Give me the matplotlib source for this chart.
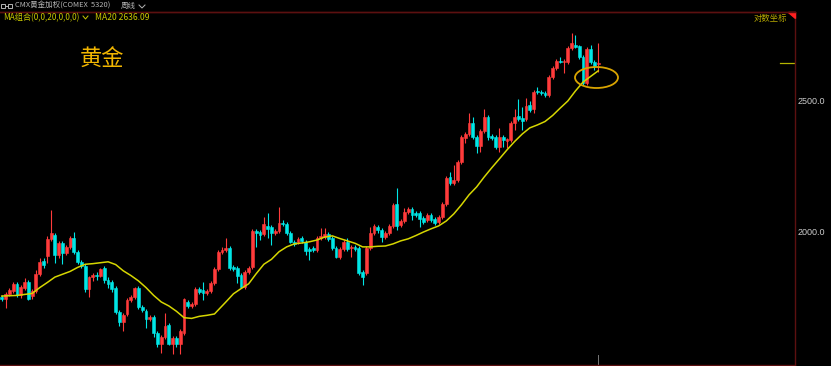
"""CMX gold weekly candles with MA20 (dark trading-terminal style)."""
import matplotlib
matplotlib.use("Agg")
import matplotlib.pyplot as plt
from matplotlib.patches import Ellipse, Polygon, Rectangle
from matplotlib.lines import Line2D
import numpy as np

plt.rcParams["font.family"] = ["Noto Sans CJK SC", "DejaVu Sans"]

# weekly OHLC
OPENS = [1794, 1788, 1803, 1812, 1834, 1800, 1822, 1840, 1797, 1812,
         1866, 1907, 1924, 1980, 1993, 1927, 1966, 1933, 1953, 1983,
         1937, 1904, 1892, 1819, 1854, 1863, 1860, 1885, 1846, 1840,
         1822, 1748, 1718, 1742, 1784, 1794, 1822, 1763, 1751, 1727,
         1733, 1687, 1656, 1676, 1710, 1656, 1673, 1656, 1687, 1778,
         1766, 1772, 1819, 1815, 1806, 1812, 1837, 1882, 1937, 1943,
         1950, 1888, 1885, 1863, 1825, 1872, 1888, 2007, 2003, 1997,
         2024, 2021, 2000, 2007, 2034, 2031, 2000, 1970, 1970, 1983,
         1970, 1946, 1950, 1943, 1983, 1986, 1997, 1983, 1950, 1921,
         1946, 1970, 1950, 1953, 1950, 1872, 1869, 1950, 2000, 2021,
         2010, 1986, 2000, 2024, 2101, 2027, 2041, 2073, 2083, 2069,
         2069, 2052, 2045, 2062, 2048, 2038, 2055, 2101, 2200, 2178,
         2189, 2257, 2351, 2367, 2412, 2355, 2320, 2380, 2437, 2359,
         2355, 2316, 2355, 2339, 2343, 2412, 2441, 2433, 2429, 2487,
         2470, 2547, 2543, 2539, 2530, 2609, 2649, 2681, 2676, 2676,
         2741, 2755, 2750, 2699, 2582, 2736, 2676, 2667]
CLOSES = [1788, 1803, 1815, 1834, 1800, 1825, 1840, 1788, 1812, 1866,
          1904, 1895, 1980, 2000, 1927, 1966, 1933, 1953, 1983, 1937,
          1904, 1892, 1819, 1854, 1863, 1857, 1882, 1846, 1834, 1819,
          1748, 1718, 1739, 1784, 1794, 1822, 1763, 1754, 1727, 1733,
          1687, 1656, 1676, 1707, 1656, 1673, 1656, 1692, 1788, 1766,
          1772, 1819, 1809, 1806, 1812, 1837, 1882, 1937, 1943, 1950,
          1885, 1882, 1860, 1825, 1872, 1885, 2007, 2000, 1993, 2031,
          2014, 2000, 2007, 2034, 2031, 2000, 1970, 1963, 1980, 1973,
          1940, 1940, 1943, 1983, 1990, 1997, 1980, 1950, 1921, 1946,
          1970, 1946, 1953, 1946, 1869, 1854, 1950, 2000, 2024, 2010,
          1986, 2000, 2024, 2098, 2024, 2041, 2073, 2083, 2062, 2062,
          2048, 2038, 2062, 2045, 2034, 2055, 2101, 2196, 2178, 2189,
          2257, 2355, 2367, 2412, 2355, 2320, 2380, 2437, 2355, 2351,
          2316, 2355, 2343, 2347, 2412, 2437, 2429, 2420, 2483, 2466,
          2543, 2543, 2539, 2530, 2609, 2649, 2681, 2676, 2681, 2741,
          2764, 2746, 2699, 2582, 2736, 2676, 2658, 2672]
HIGHS = [1800, 1809, 1822, 1840, 1840, 1831, 1851, 1846, 1819, 1878,
         1917, 1917, 1990, 2080, 2000, 1973, 1973, 1960, 1990, 2003,
         1943, 1910, 1898, 1860, 1869, 1872, 1885, 1892, 1854, 1846,
         1828, 1754, 1745, 1791, 1800, 1825, 1828, 1769, 1757, 1739,
         1739, 1692, 1681, 1745, 1716, 1679, 1679, 1698, 1791, 1784,
         1778, 1825, 1825, 1840, 1819, 1843, 1888, 1943, 1953, 1983,
         1956, 1895, 1892, 1869, 1878, 1892, 2014, 2014, 2010, 2055,
         2069, 2027, 2014, 2091, 2045, 2038, 2007, 1976, 1986, 1990,
         1976, 1953, 1956, 1990, 2017, 2017, 2003, 1990, 1956, 1953,
         1976, 1983, 1960, 1960, 1956, 1878, 1956, 2021, 2031, 2027,
         2017, 2007, 2031, 2105, 2159, 2048, 2087, 2091, 2091, 2076,
         2076, 2059, 2069, 2069, 2055, 2062, 2108, 2204, 2219, 2246,
         2265, 2363, 2376, 2454, 2437, 2363, 2388, 2470, 2445, 2367,
         2363, 2392, 2363, 2351, 2420, 2470, 2513, 2479, 2517, 2504,
         2552, 2565, 2552, 2547, 2618, 2658, 2690, 2699, 2690, 2750,
         2812, 2802, 2755, 2708, 2746, 2755, 2686, 2764]
LOWS = [1781, 1760, 1797, 1806, 1794, 1791, 1815, 1784, 1788, 1806,
        1860, 1885, 1901, 1973, 1901, 1917, 1898, 1927, 1946, 1930,
        1898, 1885, 1809, 1794, 1843, 1846, 1854, 1837, 1822, 1809,
        1742, 1707, 1692, 1736, 1778, 1788, 1757, 1748, 1701, 1721,
        1676, 1648, 1631, 1670, 1651, 1628, 1648, 1628, 1681, 1760,
        1760, 1766, 1803, 1784, 1800, 1806, 1831, 1875, 1930, 1937,
        1878, 1875, 1837, 1822, 1819, 1866, 1882, 1953, 1976, 1990,
        1983, 1960, 1993, 2000, 2024, 1993, 1966, 1956, 1963, 1966,
        1927, 1910, 1937, 1937, 1976, 1980, 1973, 1943, 1917, 1913,
        1940, 1940, 1921, 1940, 1863, 1831, 1863, 1943, 1993, 2000,
        1970, 1980, 1993, 2017, 2010, 2021, 2034, 2066, 2045, 2055,
        2021, 2031, 2038, 2038, 2027, 2031, 2048, 2094, 2170, 2170,
        2182, 2249, 2331, 2359, 2347, 2292, 2296, 2372, 2343, 2343,
        2308, 2296, 2316, 2312, 2335, 2384, 2420, 2384, 2420, 2458,
        2454, 2534, 2530, 2521, 2521, 2600, 2640, 2672, 2627, 2667,
        2732, 2741, 2690, 2573, 2573, 2667, 2640, 2631]

# MA20 line (candle number, value)
MA_IDX = [0, 4, 8, 10, 12, 14, 16, 18, 20, 22, 24, 26, 28, 30, 32, 34, 36,
          38, 40, 42, 44, 46, 48, 50, 52, 54, 56, 57, 59, 61, 63, 65, 67,
          69, 71, 73, 75, 77, 79, 81, 83, 85, 87, 89, 91, 93, 95, 97, 99,
          101, 103, 105, 107, 109, 111, 113, 115, 117, 119, 121, 123, 125,
          127, 129, 131, 133, 135, 137, 139, 141, 143, 145, 147, 149, 151,
          153, 155, 157]
MA_VAL = [1796, 1798, 1804, 1822, 1838, 1855, 1864, 1873, 1886, 1896,
          1898, 1901, 1904, 1895, 1875, 1860, 1843, 1822, 1798, 1778,
          1766, 1750, 1731, 1729, 1735, 1738, 1742, 1754, 1778, 1803,
          1819, 1834, 1866, 1896, 1912, 1937, 1953, 1963, 1966, 1970,
          1976, 1986, 1990, 1981, 1973, 1965, 1953, 1953, 1955, 1956,
          1963, 1973, 1980, 1991, 2003, 2014, 2024, 2041, 2066, 2098,
          2134, 2163, 2200, 2235, 2269, 2304, 2337, 2367, 2392, 2404,
          2418, 2443, 2474, 2504, 2547, 2586, 2611, 2636]

Y_TICKS = [2000.0, 2500.0]
LAST_PRICE = 2672

W, H = 831, 366
UP, DOWN = "#ff3b3b", "#00e6e6"
FRAME = "#5c1010"


def fxy(x, y):
    return x / W, 1 - y / H


fig = plt.figure(figsize=(W / 100, H / 100), dpi=100, facecolor="black")
ax = fig.add_axes([0, 1 / H, 795 / W, 353 / H])
ax.set_facecolor("black")

o = np.array(OPENS, float)
c = np.array(CLOSES, float)
hi = np.array(HIGHS, float)
lo = np.array(LOWS, float)
x = np.arange(len(o))
up = c >= o
cols = np.where(up, UP, DOWN)

ax.vlines(x, lo, hi, colors=cols, lw=0.8, zorder=2)
ax.bar(x, np.abs(c - o), bottom=np.minimum(o, c), width=0.74,
       color=cols, edgecolor=cols, lw=0.4, zorder=3)

ax.plot(MA_IDX, MA_VAL, color="#d6d600", lw=1.1, zorder=4)

ax.set_yscale("log")
ax.set_ylim(1597, 2914)
ax.set_xlim(-0.45, 208.8)
ax.set_xticks([])
ax.set_yticks([])
ax.minorticks_off()
ax.spines["left"].set_visible(False)
for s in ["right", "bottom", "top"]:
    ax.spines[s].set_color(FRAME)
    ax.spines[s].set_linewidth(1.0)

# right-hand price labels
for v in Y_TICKS:
    ax.text(1.003, v, f"{v:.1f}", transform=ax.get_yaxis_transform(),
            color="#cccccc", fontsize=6.5, family="Liberation Sans",
            va="center", ha="left", clip_on=False)

# last-price marker on the right edge
ax.axhline(LAST_PRICE, xmin=780 / 795, xmax=1, color="#b4b400", lw=0.9)
# current-bar marker at the bottom
ax.axvline(len(o) - 1, ymin=0, ymax=10 / 353, color="#777777", lw=0.7)

# highlight ellipse
ax.add_patch(Ellipse((596.5 / 795, (365 - 77.5) / 353), 43 / 795, 21 / 353,
                     transform=ax.transAxes, fill=False, ec="#d9a400",
                     lw=1.3, zorder=5))

# corner marker and log-scale badge
fig.add_artist(Polygon([fxy(788, 12), fxy(795, 12), fxy(795, 18)],
                       closed=True, color="#ff2020",
                       transform=fig.transFigure))
fig.text(*fxy(787, 18.5), "对数坐标", color="#b8aa00", fontsize=6,
         ha="right", va="center")

# header line
fig.add_artist(Line2D([0, 795 / W], [1 - 12 / H] * 2, color=FRAME, lw=1.0))
gray = "#b4b4b4"
fig.add_artist(Rectangle(fxy(1, 8), 4 / W, 4 / H, fill=False, ec=gray,
                         lw=0.7, transform=fig.transFigure))
fig.add_artist(Rectangle(fxy(8, 8), 4 / W, 4 / H, fill=False, ec=gray,
                         lw=0.7, transform=fig.transFigure))
fig.add_artist(Line2D([5 / W, 8 / W], [1 - 6 / H] * 2, color=gray, lw=0.7))
fig.text(*fxy(15, 6), "CMX黄金加权(COMEX  5320)", color=gray, fontsize=5.4,
         va="center", ha="left")
fig.text(*fxy(121, 6), "周线", color=gray, fontsize=5.4, va="center",
         ha="left")
fig.add_artist(Line2D([139 / W, 142 / W, 145 / W],
                      [1 - 5 / H, 1 - 8 / H, 1 - 5 / H], color=gray, lw=0.7))

yel = "#c8c800"
fig.text(*fxy(3, 17.5), "MA组合(0,0,20,0,0,0)", color=yel, fontsize=5.9,
         va="center", ha="left")
fig.add_artist(Line2D([83 / W, 85.5 / W, 88 / W],
                      [1 - 16 / H, 1 - 19 / H, 1 - 16 / H], color=yel, lw=0.7))
fig.text(*fxy(95, 17.5), f"MA20 {MA_VAL[-1] + 0.09:.2f}", color=yel,
         fontsize=6.2, va="center", ha="left")

fig.text(*fxy(80, 59), "黄金", color="#f2b600", fontsize=16,
         va="center", ha="left")

fig.savefig("out.png", dpi=100, facecolor="black")
